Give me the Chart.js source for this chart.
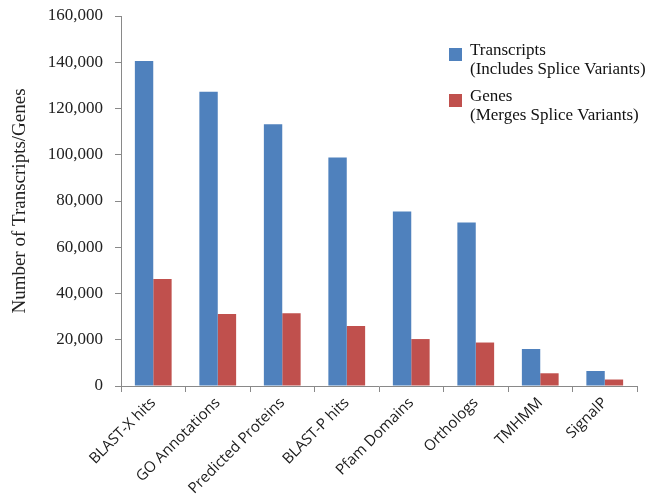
<!DOCTYPE html>
<html lang="en">
<head>
  <meta charset="UTF-8" />
  <title>Transcripts and Genes by Annotation</title>
  <script src="https://cdn.jsdelivr.net/npm/chart.js"></script>
  <style>
    body {
      margin: 0;
      background: #fff;
    }
    #wrap {
      width: 659px;
      height: 498px;
    }
  </style>
</head>
<body>
  <div id="wrap">
    <canvas id="annotationChart" width="659" height="498"></canvas>
  </div>

  <script>
    const categories = ['BLAST-X hits', 'GO Annotations', 'Predicted Proteins', 'BLAST-P hits',
                        'Pfam Domains', 'Orthologs', 'TMHMM', 'SignalP'];
    const transcripts = [140500, 127200, 113200, 98800, 75500, 70700, 16000, 6500];
    const genes = [46300, 31100, 31500, 26000, 20300, 18800, 5500, 2800];
    const seriesNames = ['Transcripts', 'Genes'];
    const seriesNotes = ['(Includes Splice Variants)', '(Merges Splice Variants)'];
    const yTitle = 'Number of Transcripts/Genes';

    const axisGrey = '#898989';
    const serif = '"Liberation Serif", "Times New Roman", serif';

    // legend sits inside the plot, top right, two lines per entry
    const cornerLegend = {
      id: 'cornerLegend',
      afterDraw(chart) {
        const ctx = chart.ctx;
        const x0 = 449, y0 = 48;
        ctx.save();
        ctx.font = '17px ' + serif;
        ctx.textBaseline = 'middle';
        ctx.textAlign = 'left';
        chart.data.datasets.forEach((ds, i) => {
          const y = y0 + i * 46;
          ctx.fillStyle = ds.backgroundColor;
          ctx.fillRect(x0, y, 13, 13);
          ctx.fillStyle = '#111';
          ctx.fillText(seriesNames[i], x0 + 21, y + 3);
          ctx.fillText(seriesNotes[i], x0 + 21, y + 22);
        });
        ctx.restore();
      }
    };

    new Chart(document.getElementById('annotationChart'), {
      type: 'bar',
      data: {
        labels: categories,
        datasets: [
          {
            label: seriesNames[0],
            data: transcripts,
            backgroundColor: '#4F81BD'
          },
          {
            label: seriesNames[1],
            data: genes,
            backgroundColor: '#C0504D'
          }
        ]
      },
      options: {
        responsive: false,
        animation: false,
        layout: {
          padding: { top: 16, right: 22, bottom: 0, left: 0 }
        },
        datasets: {
          bar: {
            categoryPercentage: 0.57,
            barPercentage: 1.0
          }
        },
        plugins: {
          legend: { display: false },
          tooltip: { enabled: false }
        },
        scales: {
          x: {
            offset: true,
            grid: {
              offset: true,
              drawOnChartArea: false,
              color: axisGrey,
              tickLength: 6
            },
            border: { color: axisGrey },
            ticks: {
              minRotation: 45,
              maxRotation: 45,
              padding: 2,
              color: '#1a1a1a',
              font: { family: '"Open Sans", sans-serif', size: 15 }
            },
            afterFit(scale) { scale.height = 112; }
          },
          y: {
            min: 0,
            max: 160000,
            grid: {
              drawOnChartArea: false,
              color: axisGrey,
              tickLength: 6
            },
            border: { color: axisGrey },
            ticks: {
              stepSize: 20000,
              padding: 12,
              color: '#222',
              font: { family: serif, size: 17 },
              callback: v => v.toLocaleString('en-US')
            },
            title: {
              display: true,
              text: yTitle,
              color: '#222',
              font: { family: serif, size: 19 },
              padding: { top: 9, bottom: 0 }
            },
            afterFit(scale) {
              scale.width = 121;
              scale.paddingTop = 0;
              scale.paddingBottom = 0;
            }
          }
        }
      },
      plugins: [cornerLegend]
    });
  </script>
</body>
</html>
